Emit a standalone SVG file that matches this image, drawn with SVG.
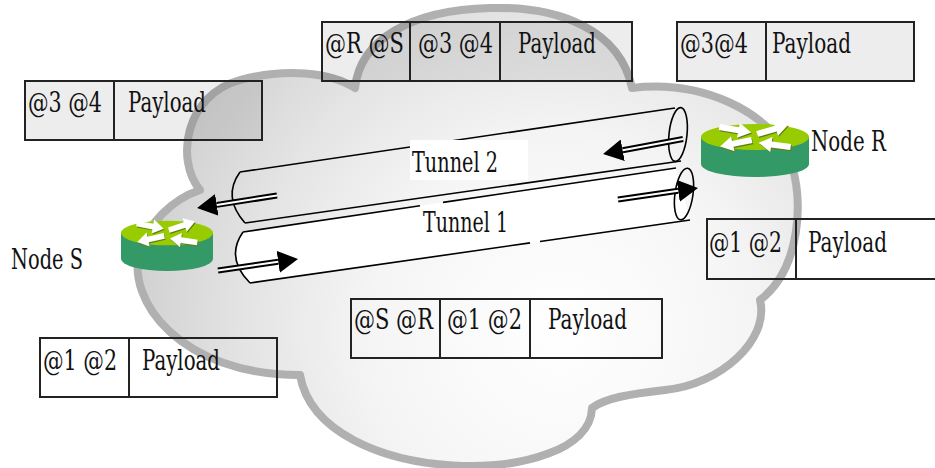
<svg xmlns="http://www.w3.org/2000/svg" width="935" height="468" viewBox="0 0 935 468">
<style>
.t{font-family:'DejaVu Serif',serif;font-size:28px;fill:#111}
.box{stroke:#222;stroke-width:2}
.gf{fill:#000;fill-opacity:0.07}
.nf{fill:none}
.div{stroke:#222;stroke-width:2}
.tl{stroke:#000;stroke-width:1.6;fill:none}
.ab{stroke:#000;stroke-width:6;fill:none}
.aw{stroke:#fff;stroke-width:2;fill:none}
.rt{fill:#99cc00}
.rs{fill:#339966}
.ra{fill:#fff}
.rsh{fill:#5f7f10}
</style>
<defs>
<radialGradient id="cg" gradientUnits="userSpaceOnUse" cx="560" cy="330" r="420">
<stop offset="0" stop-color="#ffffff"/>
<stop offset="0.45" stop-color="#f5f5f5"/>
<stop offset="0.75" stop-color="#e4e4e4"/>
<stop offset="1" stop-color="#d2d2d2"/>
</radialGradient>
<marker id="head" markerUnits="userSpaceOnUse" markerWidth="20" markerHeight="22" refX="0" refY="11" orient="auto">
<path d="M0,0 L20,11 L0,22 Z" fill="#000"/>
</marker>
<g id="rarrows">
<polygon points="0,-3 18,-3 18,-7.5 30,0 18,7.5 18,3 0,3" transform="translate(2,-3) rotate(-17.7)"/>
<polygon points="0,-3 18,-3 18,-7.5 30,0 18,7.5 18,3 0,3" transform="translate(-33,-10) rotate(10.5)"/>
<polygon points="0,-3 18,-3 18,-7.5 30,0 18,7.5 18,3 0,3" transform="translate(-3,3) rotate(167.5)"/>
<polygon points="0,-3 18,-3 18,-7.5 30,0 18,7.5 18,3 0,3" transform="translate(33,10) rotate(-172)"/>
</g>
<g id="router">
<path class="rs" d="M-50,0 L-50,27 A50,13 0 0 0 50,27 L50,0 Z"/>
<ellipse class="rt" cx="0" cy="0" rx="50" ry="13"/>
<use href="#rarrows" class="rsh" transform="translate(0.8,1.2)"/>
<use href="#rarrows" class="ra"/>
</g>
</defs>

<g id="cloud">
<path d="M200,190 C175,160 185,95 240,80 C285,68 330,72 355,88 C360,40 410,10 490,8 C560,6 620,30 632,88 C700,80 770,110 790,160 C805,200 800,270 760,300 C770,340 720,385 665,390 C630,394 605,398 592,408 C590,490 320,490 300,375 C180,375 125,300 140,250 C148,225 170,200 200,190 Z" fill="url(#cg)" stroke="#b0b0b0" stroke-width="8" stroke-linejoin="round"/>
</g>

<g id="tunnel-2">
<path class="tl" d="M240,172 L675,108"/>
<path class="tl" d="M245,223 L681,161"/>
<path class="tl" d="M240,172 Q222,197 245,223"/>
<ellipse class="tl" cx="678" cy="134.5" rx="9" ry="27" transform="rotate(6 678 134.5)"/>
<rect x="410" y="140" width="118" height="40" fill="#fff"/>
<text class="t" transform="scale(0.7,1)" x="588.57" y="172" textLength="122.86" lengthAdjust="spacingAndGlyphs">Tunnel 2</text>
</g>

<g id="tunnel-1">
<path d="M243,232 L676,168 L690,220 L250,283 Q225,258 243,232 Z" fill="#fff"/>
<path class="tl" d="M243,232 L420,205.8 M443,202.4 L676,168"/>
<path class="tl" d="M250,283 L530,242.9 M540,241.5 L690,220"/>
<path class="tl" d="M243,232 Q225,258 250,283"/>
<ellipse class="tl" cx="684" cy="194" rx="9" ry="26" transform="rotate(8 684 194)"/>
<text class="t" transform="scale(0.7,1)" x="604.29" y="232" textLength="121.43" lengthAdjust="spacingAndGlyphs">Tunnel 1</text>
</g>

<g id="connectors">
<path class="ab" d="M683,139 L622.7,150.3" marker-end="url(#head)"/>
<path class="aw" d="M683,139 L622.7,150.3"/>
<path class="ab" d="M277,195.5 L216.8,204.9" marker-end="url(#head)"/>
<path class="aw" d="M277,195.5 L216.8,204.9"/>
<path class="ab" d="M618,199.5 L678.2,190.8" marker-end="url(#head)"/>
<path class="aw" d="M618,199.5 L678.2,190.8"/>
<path class="ab" d="M218,270.5 L278.2,261.8" marker-end="url(#head)"/>
<path class="aw" d="M218,270.5 L278.2,261.8"/>
</g>

<g id="node-r">
<use href="#router" transform="translate(755,137) scale(1.08,1)"/>
<text class="t" transform="scale(0.7,1)" x="1158.57" y="151" textLength="107.14" lengthAdjust="spacingAndGlyphs">Node R</text>
</g>

<g id="node-s">
<use href="#router" transform="translate(167,233) scale(0.92,0.95)"/>
<text class="t" transform="scale(0.7,1)" x="15.71" y="269" textLength="102.86" lengthAdjust="spacingAndGlyphs">Node S</text>
</g>

<g id="pkt-top-center">
<rect class="box gf" x="322" y="22" width="310" height="59"/>
<line class="div" x1="410" y1="22" x2="410" y2="81"/>
<line class="div" x1="500" y1="22" x2="500" y2="81"/>
<text class="t" transform="scale(0.7,1)" x="464.29" y="53" textLength="112.86" lengthAdjust="spacingAndGlyphs">@R @S</text>
<text class="t" transform="scale(0.7,1)" x="597.14" y="53" textLength="107.14" lengthAdjust="spacingAndGlyphs">@3 @4</text>
<text class="t" transform="scale(0.7,1)" x="740" y="53" textLength="111.43" lengthAdjust="spacingAndGlyphs">Payload</text>
</g>

<g id="pkt-top-right">
<rect class="box gf" x="677" y="22" width="237" height="59"/>
<line class="div" x1="766" y1="22" x2="766" y2="81"/>
<text class="t" transform="scale(0.7,1)" x="971.43" y="53" textLength="97.14" lengthAdjust="spacingAndGlyphs">@3@4</text>
<text class="t" transform="scale(0.7,1)" x="1102.86" y="53" textLength="112.86" lengthAdjust="spacingAndGlyphs">Payload</text>
</g>

<g id="pkt-left">
<rect class="box gf" x="25" y="81" width="237" height="59"/>
<line class="div" x1="114" y1="81" x2="114" y2="140"/>
<text class="t" transform="scale(0.7,1)" x="40" y="112" textLength="105.71" lengthAdjust="spacingAndGlyphs">@3 @4</text>
<text class="t" transform="scale(0.7,1)" x="182.86" y="112" textLength="111.43" lengthAdjust="spacingAndGlyphs">Payload</text>
</g>

<g id="pkt-right">
<rect class="box nf" x="707" y="219" width="240" height="60"/>
<line class="div" x1="796" y1="219" x2="796" y2="279"/>
<text class="t" transform="scale(0.7,1)" x="1012.86" y="252" textLength="104.29" lengthAdjust="spacingAndGlyphs">@1 @2</text>
<text class="t" transform="scale(0.7,1)" x="1154.29" y="252" textLength="112.86" lengthAdjust="spacingAndGlyphs">Payload</text>
</g>

<g id="pkt-center">
<rect class="box nf" x="351" y="299" width="311" height="59"/>
<line class="div" x1="440" y1="299" x2="440" y2="358"/>
<line class="div" x1="530" y1="299" x2="530" y2="358"/>
<text class="t" transform="scale(0.7,1)" x="505.71" y="329" textLength="112.86" lengthAdjust="spacingAndGlyphs">@S @R</text>
<text class="t" transform="scale(0.7,1)" x="638.57" y="329" textLength="107.14" lengthAdjust="spacingAndGlyphs">@1 @2</text>
<text class="t" transform="scale(0.7,1)" x="782.86" y="329" textLength="112.86" lengthAdjust="spacingAndGlyphs">Payload</text>
</g>

<g id="pkt-bottom-left">
<rect class="box nf" x="40" y="338" width="237" height="59"/>
<line class="div" x1="129" y1="338" x2="129" y2="397"/>
<text class="t" transform="scale(0.7,1)" x="61.43" y="370" textLength="105.71" lengthAdjust="spacingAndGlyphs">@1 @2</text>
<text class="t" transform="scale(0.7,1)" x="202.86" y="370" textLength="111.43" lengthAdjust="spacingAndGlyphs">Payload</text>
</g>
</svg>
